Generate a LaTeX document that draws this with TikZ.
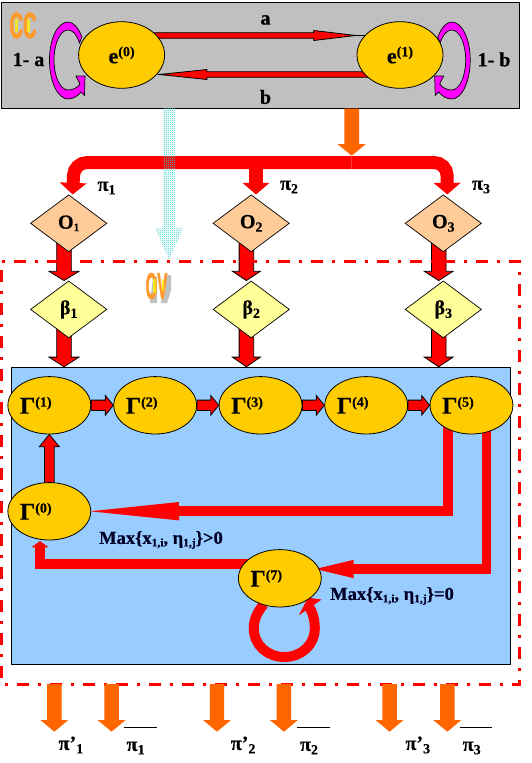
\documentclass[tikz,border=0pt]{standalone}
\usepackage{fontspec}
\setmainfont{Liberation Serif}[BoldFeatures={FakeBold=0.5}]
\newfontfamily\glowfont[FakeBold=2.5]{Liberation Sans Bold}
\usetikzlibrary{shapes.geometric,calc,arrows.meta,patterns}
\definecolor{ccgray}{HTML}{C0C0C0}
\definecolor{goldy}{HTML}{FFCC00}
\definecolor{peach}{HTML}{FFCC99}
\definecolor{paley}{HTML}{FFFF99}
\definecolor{skyb}{HTML}{99CCFF}
\definecolor{orng}{HTML}{FF6600}
\definecolor{tealy}{HTML}{33CCCC}
\definecolor{glow}{HTML}{FF9A2E}
\definecolor{glowy}{HTML}{FFF000}
\definecolor{magn}{HTML}{FF00FF}
\pgfdeclarelayer{bg}\pgfdeclarelayer{conn}
\pgfsetlayers{bg,conn,main}
\pgfdeclarepatternformonly{chk}{\pgfqpoint{0pt}{0pt}}{\pgfqpoint{2pt}{2pt}}{\pgfqpoint{2pt}{2pt}}{%
 \pgfpathrectangle{\pgfqpoint{0pt}{0pt}}{\pgfqpoint{1pt}{1pt}}%
 \pgfpathrectangle{\pgfqpoint{1pt}{1pt}}{\pgfqpoint{1pt}{1pt}}\pgfusepath{fill}}
\newcommand{\sps}[1]{\raisebox{7pt}{\fontsize{14}{14}\selectfont(#1)}}
\newcommand{\ssb}[1]{\raisebox{-3.5pt}{\fontsize{14}{14}\selectfont #1}}
\newcommand{\tsb}[1]{\raisebox{-2.5pt}{\fontsize{11.5}{12}\selectfont #1}}
\newcommand{\blockarrow}[6][]{%
 \coordinate (aa) at #2; \coordinate (bb) at #3;
 \coordinate (ba) at ($(bb)!#6pt!(aa)$);
 \draw[#1] ($(aa)!#4pt!90:(bb)$) -- ($(ba)!#4pt!90:(bb)$) -- ($(ba)!#5pt!90:(bb)$) -- (bb)
  -- ($(ba)!#5pt!-90:(bb)$) -- ($(ba)!#4pt!-90:(bb)$) -- ($(aa)!#4pt!-90:(bb)$) -- cycle;}
\tikzset{
 lab/.style={inner sep=0pt,font=\bfseries\fontsize{20}{22}\selectfont},
 small/.style={inner sep=0pt,font=\bfseries\fontsize{18.5}{20}\selectfont,text=black!85!blue},
 state/.style={ellipse,draw=black,line width=.8pt,fill=goldy,inner sep=0pt,minimum width=86pt,minimum height=66.6pt,font=\bfseries\fontsize{22}{24}\selectfont},
 gam/.style={ellipse,draw=black,line width=.8pt,fill=goldy,inner sep=0pt,minimum width=75.8pt,minimum height=57.4pt,font=\bfseries\fontsize{24}{26}\selectfont},
 dia/.style={diamond,aspect=1.33,draw=black,line width=.7pt,inner sep=0pt,minimum width=76.4pt,minimum height=57pt,font=\bfseries\fontsize{20}{22}\selectfont},
 redarr/.style={fill=red,draw=black,line width=.8pt},
 flatred/.style={fill=red,draw=none},
 orarr/.style={fill=orng,draw=none},
 redline/.style={draw=red,line width=9.6pt},
 mag/.style={fill=magn,draw=black,line width=.7pt}
}
\begin{document}
\begin{tikzpicture}[x=1pt,y=-1pt]
\useasboundingbox (0,0) rectangle (532,763);
\begin{pgfonlayer}{bg}
\fill[white] (0,0) rectangle (532,763);
\node[draw=black,line width=1pt,fill=ccgray,minimum width=517.8pt,minimum height=105.3pt,inner sep=0pt] (ccbox) at (260.6,55.35) {};
\node[draw=black,line width=1pt,fill=skyb,minimum width=499.1pt,minimum height=296.7pt,inner sep=0pt] (ovinner) at (260.75,515.65) {};
\end{pgfonlayer}
% nodes
\node[state] (e0) at (121.6,55) {\raisebox{-7pt}{e\sps{0}}};
\node[state] (e1) at (400,55) {\raisebox{-7pt}{e\sps{1}}};
\node[lab] (la) at (265.5,20) {a};
\node[lab] (lb) at (265.5,97) {b};
\node[lab] (l1a) at (28.5,59.5) {1- a};
\node[lab] (l1b) at (494,59.5) {1- b};
\coordinate (busJ) at (351.7,162.5);
\node[dia,fill=peach] (o1) at (68.7,223.3) {O\tsb{1}};
\node[dia,fill=peach] (o2) at (251.2,223.3) {O\ssb{2}};
\node[dia,fill=peach] (o3) at (443.3,223.3) {O\ssb{3}};
\node[dia,fill=paley] (b1) at (68.7,309.4) {β\ssb{1}};
\node[dia,fill=paley] (b2) at (251.2,309.4) {β\ssb{2}};
\node[dia,fill=paley] (b3) at (443.3,309.4) {β\ssb{3}};
\node[lab] (p1) at (106.5,188) {π\ssb{1}};
\node[lab] (p2) at (289,187) {π\ssb{2}};
\node[lab] (p3) at (481,187) {π\ssb{3}};
\node[gam] (g1) at (49.3,405.3) {\raisebox{-2pt}{Γ\sps{1}}\kern27pt};
\node[gam] (g2) at (155.2,405.3) {\raisebox{-2pt}{Γ\sps{2}}\kern27pt};
\node[gam] (g3) at (260.6,405.3) {\raisebox{-2pt}{Γ\sps{3}}\kern27pt};
\node[gam] (g4) at (366.2,405.3) {\raisebox{-2pt}{Γ\sps{4}}\kern27pt};
\node[gam] (g5) at (471.5,405.3) {\raisebox{-2pt}{Γ\sps{5}}\kern27pt};
\node[gam] (g0) at (49.3,511.3) {\raisebox{-2pt}{Γ\sps{0}}\kern27pt};
\node[gam] (g7) at (279.8,578.3) {\raisebox{-2pt}{Γ\sps{7}}\kern27pt};
\node[small] (m1) at (161,540) {Max\{x\tsb{1,i}, η\tsb{1,j}\}>0};
\node[small] (m2) at (392,596) {Max\{x\tsb{1,i}, η\tsb{1,j}\}=0};
\node[lab] (q1) at (70.9,745) {π'\ssb{1}};
\node[lab] (r1) at (135.6,748) {π\ssb{1}};
\node[lab] (q2) at (243.1,745) {π'\ssb{2}};
\node[lab] (r2) at (309,748) {π\ssb{2}};
\node[lab] (q3) at (417.8,745) {π'\ssb{3}};
\node[lab] (r3) at (471.7,748) {π\ssb{3}};
% glow labels
\node[inner sep=0pt,text=glow] (cc) at (23,25.5) {\glowfont\scalebox{.62}[1.22]{\fontsize{30}{30}\selectfont CC}};
\draw[glowy,line width=3pt,line cap=round,opacity=.8] (16.5,20) -- (16.5,31);
\draw[glowy,line width=3pt,line cap=round,opacity=.8] (28.5,20) -- (28.5,31);
\begin{pgfonlayer}{conn}
% OV shadow and text
\fill[ccgray] (153,277) -- (157,277) -- (157,303) -- (150,303) -- cycle;
\fill[ccgray] (165,275) -- (171,275) -- (171,290) -- (167,303) -- (161,303) -- cycle;
% top chain
\draw[black,line width=.8pt] (356,35.5) -- (364.7,35.5);
\blockarrow[redarr]{($(e0.center)+(25,-19.5)$)}{(356,35.5)}{2.8}{5}{42.3}
\blockarrow[redarr]{($(e1.center)+(-30,19.5)$)}{($(e0.center)+(37.8,19.5)$)}{2.8}{5}{47.5}
\path[mag] (82,37) .. controls (78,27) and (73,22) .. (68,22) .. controls (58,22) and (49.5,38) .. (49.5,60) .. controls (49.5,82) and (58,99) .. (68,99) .. controls (73,99) and (78,96) .. (81,92) -- (84.5,95.5) -- (85,76) -- (76,76) -- (80,84) .. controls (77,88) and (73,90) .. (68,90) .. controls (60,90) and (54,76) .. (54,60) .. controls (54,44) and (60,30) .. (68,30) .. controls (73,30) and (77,35) .. (79.5,43) -- cycle;
\begin{scope}[shift={(519.7,0)},x=-1pt]
\path[mag] (82,37) .. controls (78,27) and (73,22) .. (68,22) .. controls (58,22) and (49.5,38) .. (49.5,60) .. controls (49.5,82) and (58,99) .. (68,99) .. controls (73,99) and (78,96) .. (81,92) -- (84.5,95.5) -- (85,76) -- (76,76) -- (80,84) .. controls (77,88) and (73,90) .. (68,90) .. controls (60,90) and (54,76) .. (54,60) .. controls (54,44) and (60,30) .. (68,30) .. controls (73,30) and (77,35) .. (79.5,43) -- cycle;
\end{scope}
% orange into bus
\blockarrow[orarr]{(busJ |- ccbox.south)}{($(busJ)+(0,-6.8)$)}{7.3}{14.2}{11.7}
% bus
\draw[red,line width=13pt,rounded corners=13pt,-{Triangle[length=11.6pt,width=26.4pt]}] (busJ) -- (74,162.5) -- ($(o1.north)+(4,0)$);
\draw[red,line width=13pt,rounded corners=13pt,-{Triangle[length=11.6pt,width=26.4pt]}] (busJ) -- (447,162.5) -- ($(o3.north)+(4,0)$);
\draw[red,line width=14pt,-{Triangle[length=11.6pt,width=26.4pt]}] (256,162.5) -- ($(o2.north)+(4.8,0)$);
% teal arrow
\path[pattern=chk,pattern color=tealy] (163,108) -- (163,228.3) -- (155,228.3) -- (169,259.5) -- (183,228.3) -- (175,228.3) -- (175,108) -- cycle;
% O to beta, beta to box
\blockarrow[redarr]{($(o1.center)+(-4.7,10)$)}{($(b1.north)+(-4.7,0)$)}{7.3}{15}{9.3}
\blockarrow[redarr]{($(o2.center)+(-4.8,10)$)}{($(b2.north)+(-4.8,0)$)}{7.3}{14}{9.3}
\blockarrow[redarr]{($(o3.center)+(-4.6,10)$)}{($(b3.north)+(-4.6,0)$)}{7.3}{14.4}{9.3}
\blockarrow[redarr]{($(b1.center)+(-4.7,10)$)}{($(b1.center |- ovinner.north)+(-4.7,0)$)}{7.3}{15}{9.7}
\blockarrow[redarr]{($(b2.center)+(-4.8,10)$)}{($(b2.center |- ovinner.north)+(-4.8,0)$)}{7.3}{14}{9.7}
\blockarrow[redarr]{($(b3.center)+(-4.6,10)$)}{($(b3.center |- ovinner.north)+(-4.6,0)$)}{7.3}{14.4}{9.7}
% Gamma chain
\blockarrow[redarr]{(g1.east)}{(g2.west)}{5.2}{9.8}{8}
\blockarrow[redarr]{(g2.east)}{(g3.west)}{5.2}{9.8}{8}
\blockarrow[redarr]{(g3.east)}{(g4.west)}{5.2}{9.8}{8}
\blockarrow[redarr]{(g4.east)}{(g5.west)}{5.2}{9.8}{8}
\blockarrow[redarr]{(g0.north)}{(g1.south)}{4.9}{10}{12.4}
% returns
\draw[redline,line join=miter] (448,425) -- (448,511.1) -- (175,511.1);
\blockarrow[flatred]{(180,511.2)}{($(g0.center)+(40.6,0)$)}{4.8}{9.2}{89.1}
\draw[redline,line width=9.2pt] (486.3,425) -- (486.3,568.9) -- (350,568.9);
\blockarrow[flatred]{(355,569)}{($(g7.center)+(35.6,-9.3)$)}{4.6}{9.2}{38.3}
\draw[redline] ($(g7.center)+(-20,-14.5)$) -- (40,563.8) -- (40,550);
\blockarrow[flatred]{(40,555)}{($(g0.south)+(-9.3,0.7)$)}{4.8}{8.7}{6.3}
\begin{scope}[shift={(g7.center)}]
\draw[red,line width=10pt] (-16,26) .. controls (-23,34) and (-26,42) .. (-26,50) .. controls (-26,67) and (-12,78.7) .. (4.5,78.7) .. controls (21,78.7) and (35,67) .. (35,50) .. controls (35,42) and (33,34) .. (29,28);
\fill[red] (41.7,21.3) -- (28.3,19.3) -- (19,37) -- cycle;
\end{scope}
% dashed frame
\draw[red,line width=3pt,dash pattern=on 12pt off 9pt on 3pt off 9pt,dash phase=21pt] (1.7,261.3) -- (519.5,261.3) -- (519.5,684) -- (1.7,684) -- cycle;
% outputs
\foreach \px in {54.3,111.6,217,283.9,389.6,447.3}{
  \blockarrow[orarr]{(\px,684)}{(\px,731.7)}{7.2}{14}{11.7}
}
\draw[black,line width=.9pt] (124.4,727.3) -- (157,727.3);
\draw[black,line width=.9pt] (297,727.3) -- (329.6,727.3);
\draw[black,line width=.9pt] (459.8,727.3) -- (492.4,727.3);
\end{pgfonlayer}
\node[inner sep=0pt,text=glow] (ov) at (156.5,286) {\glowfont\scalebox{.5}[1.22]{\fontsize{30}{30}\selectfont OV}};
\draw[glowy,line width=3pt,line cap=round,opacity=.8] (154,280) -- (154,292);
\draw[glowy,line width=2.5pt,line cap=round,opacity=.8] (163,280) -- (163,290);
\end{tikzpicture}
\end{document}
